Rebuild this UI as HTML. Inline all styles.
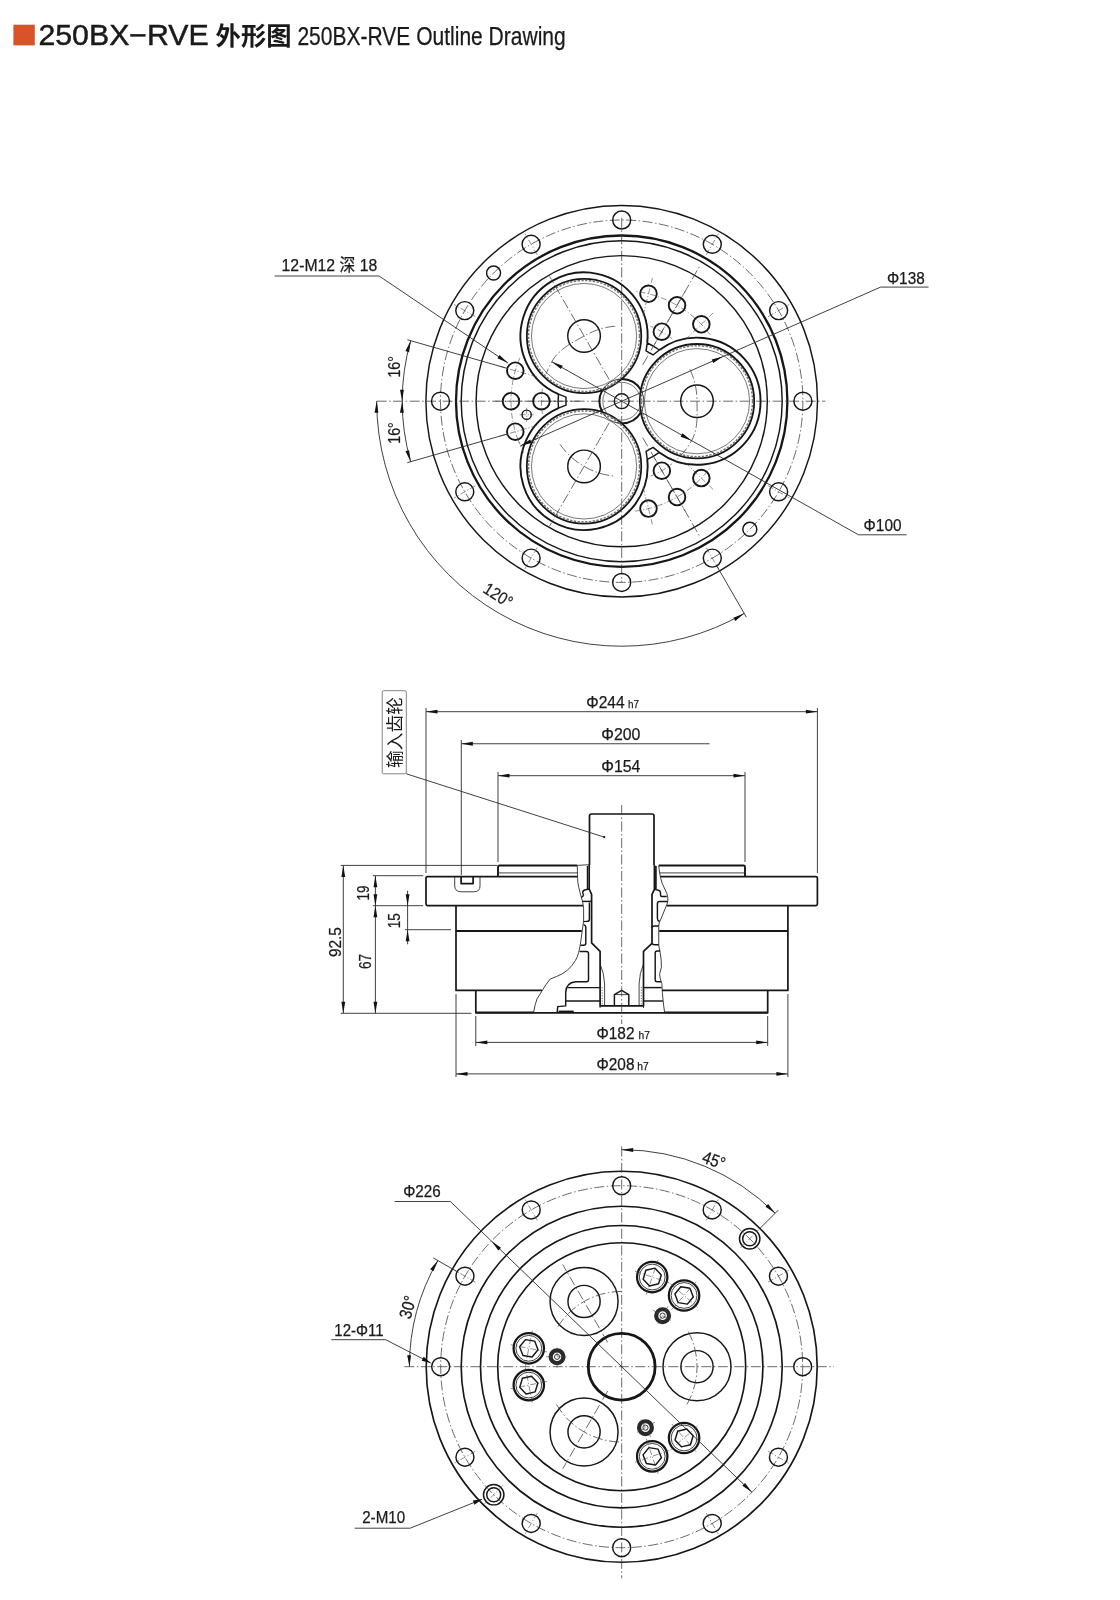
<!DOCTYPE html>
<html lang="zh"><head><meta charset="utf-8"><title>250BX-RVE 外形图 Outline Drawing</title>
<style>
html,body{margin:0;padding:0;background:#fff}
body{width:1120px;height:1600px;overflow:hidden}
svg{display:block;opacity:.999;will-change:transform}
text{font-family:"Liberation Sans","Noto Sans CJK SC",sans-serif;fill:#1a1a1a;stroke:#1a1a1a;stroke-width:.25}
.cj{font-family:"Liberation Sans","Noto Sans CJK SC",sans-serif;stroke:none}
.k,.kb,.kb2,.k8,.k15,.kp,.kp2,.kh,.ks,.t,.c,.c2,.teeth,.dot,.ss{fill:none;stroke:#161616;stroke-linecap:butt;stroke-linejoin:round}
.k{stroke-width:1.45}
.k15{stroke-width:1.65}
.ko{fill:none;stroke:#161616;stroke-width:1.7;stroke-linejoin:round}
.k8{stroke-width:.8}
.kb{stroke-width:2.3}
.kb2{stroke-width:1.9}
.kp{stroke-width:1.9}
.kp2{stroke-width:1.8}
.kh{stroke-width:1.9}
.ks{stroke-width:2.25}
.ss{stroke-width:4.2;stroke:#2a2a2a}
.t{stroke-width:.9;stroke:#2b2b2b}
.tg{fill:none;stroke-width:.9;stroke:#6a6a6a}
.c{stroke-width:.75;stroke:#3a3a3a;stroke-dasharray:10 2.5 1.5 2.5}
.c2{stroke-width:.6;stroke:#444;stroke-dasharray:6 2 1.2 2}
.teeth{stroke-width:1.5;stroke:#777;stroke-dasharray:2.4 1.4}
.dot{stroke-width:.6;stroke-dasharray:1.2 1.5}
.ah{fill:#111;stroke:none}
.bx{fill:none;stroke:#777;stroke-width:.9}
</style></head>
<body>
<svg width="1120" height="1600" viewBox="0 0 1120 1600">
<rect x="0" y="0" width="1120" height="1600" fill="#fff"/>
<g id="header">
<rect x="13.4" y="24.7" width="21.4" height="20.7" fill="#d8532a"/>
<text x="38.4" y="45.4" font-size="28.6" textLength="170.4" lengthAdjust="spacingAndGlyphs" style="stroke:#1a1a1a;stroke-width:.45">250BX−RVE</text>
<text x="215.6" y="45.3" font-size="24.9" font-weight="700" textLength="76" style="stroke:none" lengthAdjust="spacingAndGlyphs" class="cj">外形图</text>
<text x="297.4" y="45" font-size="25.6" textLength="268.3" lengthAdjust="spacingAndGlyphs">250BX-RVE Outline Drawing</text>
</g>
<g id="topview">
<circle class="k" cx="621.7" cy="401.2" r="195.8"/>
<circle class="kb" cx="621.7" cy="401.2" r="165.7"/>
<circle class="k" cx="621.7" cy="401.2" r="160.5"/>
<circle class="k" cx="621.7" cy="401.2" r="145.6"/>
<circle class="c" cx="621.7" cy="401.2" r="181.2"/>
<line class="c" x1="376.6" y1="401.2" x2="825.3" y2="401.2"/>
<line class="c" x1="621.7" y1="217.9" x2="621.7" y2="582.3"/>
<circle class="k" cx="802.9" cy="401.2" r="9"/>
<circle class="k" cx="778.62" cy="310.6" r="9"/>
<line class="c2" x1="768.06" y1="316.7" x2="789.28" y2="304.45"/>
<circle class="k" cx="712.3" cy="244.28" r="9"/>
<line class="c2" x1="706.2" y1="254.84" x2="718.45" y2="233.62"/>
<circle class="k" cx="621.7" cy="220" r="9"/>
<circle class="k" cx="531.1" cy="244.28" r="9"/>
<line class="c2" x1="537.2" y1="254.84" x2="524.95" y2="233.62"/>
<circle class="k" cx="464.78" cy="310.6" r="9"/>
<line class="c2" x1="475.34" y1="316.7" x2="454.12" y2="304.45"/>
<circle class="k" cx="440.5" cy="401.2" r="9"/>
<circle class="k" cx="464.78" cy="491.8" r="9"/>
<line class="c2" x1="475.34" y1="485.7" x2="454.12" y2="497.95"/>
<circle class="k" cx="531.1" cy="558.12" r="9"/>
<line class="c2" x1="537.2" y1="547.56" x2="524.95" y2="568.78"/>
<circle class="k" cx="621.7" cy="582.4" r="9"/>
<circle class="k" cx="712.3" cy="558.12" r="9"/>
<line class="c2" x1="706.2" y1="547.56" x2="718.45" y2="568.78"/>
<circle class="k" cx="778.62" cy="491.8" r="9"/>
<line class="c2" x1="768.06" y1="485.7" x2="789.28" y2="497.95"/>
<circle class="k" cx="493.57" cy="273.07" r="7"/>
<circle class="k" cx="749.83" cy="529.33" r="7"/>
<path class="kp" d="M659.36 349.97A63.57 63.57 0 1 1 659.36 452.43"/>
<circle class="kp2" cx="697" cy="401.2" r="57.2"/>
<circle class="teeth" cx="697" cy="401.2" r="55.5"/>
<circle class="tg" cx="697" cy="401.2" r="52.6"/>
<circle class="k" cx="697" cy="401.2" r="16.3"/>
<path class="kp" d="M558.5 394.2A63.57 63.57 0 1 1 647.24 342.97"/>
<circle class="kp2" cx="584.05" cy="335.99" r="57.2"/>
<circle class="teeth" cx="584.05" cy="335.99" r="55.5"/>
<circle class="tg" cx="584.05" cy="335.99" r="52.6"/>
<circle class="k" cx="584.05" cy="335.99" r="16.3"/>
<line class="c" x1="609.2" y1="379.55" x2="549.7" y2="276.49"/>
<path class="kp" d="M647.24 459.43A63.57 63.57 0 1 1 558.5 408.2"/>
<circle class="kp2" cx="584.05" cy="466.41" r="57.2"/>
<circle class="teeth" cx="584.05" cy="466.41" r="55.5"/>
<circle class="tg" cx="584.05" cy="466.41" r="52.6"/>
<circle class="k" cx="584.05" cy="466.41" r="16.3"/>
<line class="c" x1="609.2" y1="422.85" x2="549.7" y2="525.91"/>
<path class="c" d="M560.02 444.39A75.3 75.3 0 0 0 615.14 476.21"/>
<path class="c" d="M689.94 369.38L690.91 371.54L691.81 373.72L692.64 375.94L693.4 378.18L694.08 380.44L694.7 382.73L695.24 385.03L695.72 387.35L696.11 389.68L696.44 392.02L696.69 394.38L696.87 396.73L696.97 399.1L697 401.46L697.02 403.83L697.05 406.21L697.1 408.59L697.13 411L697.14 413.42L697.11 415.86L697.03 418.32L696.89 420.79L696.67 423.26L696.36 425.75L695.94 428.22L695.41 430.68L694.75 433.11L693.95 435.51L693.01 437.85L691.92 440.12L690.67 442.32L689.35 444.46L687.96 446.57L686.5 448.63L684.98 450.64L683.39 452.6L681.75 454.51L680.04 456.37L678.28 458.18L676.46 459.93"/>
<path class="c" d="M615.14 326.19L613.01 326.4L610.9 326.68L608.79 327.02L606.69 327.41L604.6 327.87L602.53 328.38L600.47 328.95L598.43 329.59L596.41 330.27L594.41 331.02L592.43 331.82L590.47 332.68L588.54 333.59L586.64 334.56L584.76 335.58L582.91 336.64L581.04 337.69L579.17 338.73L577.28 339.78L575.38 340.84L573.49 341.93L571.59 343.04L569.7 344.21L567.83 345.41L565.98 346.68L564.16 348.01L562.38 349.41L560.65 350.88L558.99 352.42L557.39 354.05L555.89 355.76L554.47 357.54L553.17 359.41L551.98 361.35L550.88 363.35L549.84 365.37L548.85 367.42L547.92 369.5L547.05 371.61L546.24 373.74"/>
<circle class="t" cx="621.7" cy="401.2" r="22.2"/>
<path class="kp" d="M640.93 390.1A22.2 22.2 0 0 0 621.7 379"/>
<path class="kp" d="M602.47 390.1A22.2 22.2 0 0 0 602.47 412.3"/>
<path class="kp" d="M621.7 423.4A22.2 22.2 0 0 0 640.93 412.3"/>
<circle class="tg" cx="621.7" cy="401.2" r="18.9"/>
<circle class="k" cx="621.7" cy="401.2" r="7.4"/>
<path class="k" d="M647.24 342.97L646.09 350.96L653.01 354.96L659.36 349.97A64 64 0 0 0 647.24 342.97Z"/>
<line class="c" x1="642.7" y1="364.83" x2="700.2" y2="265.23"/>
<path class="k" d="M558.5 408.2L566 405.2L566 397.2L558.5 394.2A64 64 0 0 0 558.5 408.2Z"/>
<line class="c" x1="579.7" y1="401.2" x2="551.7" y2="401.2"/>
<path class="k" d="M659.36 452.43L653.01 447.44L646.09 451.44L647.24 459.43A64 64 0 0 0 659.36 452.43Z"/>
<line class="c" x1="642.7" y1="437.57" x2="700.2" y2="537.17"/>
<circle class="kh" cx="701.33" cy="324.3" r="8.3"/>
<line class="c2" x1="685" y1="340.07" x2="713.06" y2="312.98"/>
<circle class="kh" cx="677.05" cy="305.33" r="8.3"/>
<line class="c2" x1="654.7" y1="344.04" x2="685.2" y2="291.21"/>
<circle class="kh" cx="648.48" cy="293.79" r="8.3"/>
<line class="c2" x1="642.99" y1="315.81" x2="652.42" y2="277.97"/>
<path class="c2" d="M710.11 334.58A110.7 110.7 0 0 0 635.19 291.33"/>
<circle class="kh" cx="661.83" cy="331.7" r="8.3"/>
<path class="c2" d="M672.2 338.83A80.25 80.25 0 0 0 650.46 326.28"/>
<circle class="kh" cx="515.29" cy="370.69" r="8.3"/>
<line class="c2" x1="537.11" y1="376.94" x2="499.62" y2="366.19"/>
<circle class="kh" cx="511" cy="401.2" r="8.3"/>
<line class="c2" x1="555.7" y1="401.2" x2="494.7" y2="401.2"/>
<circle class="kh" cx="515.29" cy="431.71" r="8.3"/>
<line class="c2" x1="537.11" y1="425.46" x2="499.62" y2="436.21"/>
<path class="c2" d="M519.8 357.95A110.7 110.7 0 0 0 519.8 444.45"/>
<circle class="kh" cx="541.45" cy="401.2" r="8.3"/>
<path class="c2" d="M542.44 388.65A80.25 80.25 0 0 0 542.44 413.75"/>
<circle class="kh" cx="648.48" cy="508.61" r="8.3"/>
<line class="c2" x1="642.99" y1="486.59" x2="652.42" y2="524.43"/>
<circle class="kh" cx="677.05" cy="497.07" r="8.3"/>
<line class="c2" x1="654.7" y1="458.36" x2="685.2" y2="511.19"/>
<circle class="kh" cx="701.33" cy="478.1" r="8.3"/>
<line class="c2" x1="685" y1="462.33" x2="713.06" y2="489.42"/>
<path class="c2" d="M635.19 511.07A110.7 110.7 0 0 0 710.11 467.82"/>
<circle class="kh" cx="661.83" cy="470.7" r="8.3"/>
<path class="c2" d="M650.46 476.12A80.25 80.25 0 0 0 672.2 463.57"/>
<circle class="k" cx="526.66" cy="414.73" r="4.6"/>
<line class="c2" x1="519.66" y1="414.73" x2="533.66" y2="414.73"/>
<line class="c2" x1="526.66" y1="407.73" x2="526.66" y2="421.73"/>
<path class="t" d="M274.6 276H379.1L508 363"/>
<polygon class="ah" points="508,363 497.41,358.14 499.53,354.99"/>
<text class="d" x="281.6" y="271.3" font-size="17" textLength="95.6" lengthAdjust="spacingAndGlyphs">12-M12 深 18</text>
<line class="t" x1="507.31" y1="368.4" x2="407.34" y2="339.73"/>
<path class="t" d="M410.7 340.7A219.5 219.5 0 0 0 402.2 401.2"/>
<polygon class="ah" points="410.7,340.7 409.06,352.24 405.43,351.09"/>
<polygon class="ah" points="402.2,401.2 400,389.75 403.8,389.65"/>
<line class="t" x1="507.31" y1="434" x2="407.34" y2="462.67"/>
<path class="t" d="M402.2 401.2A219.5 219.5 0 0 0 410.7 461.7"/>
<polygon class="ah" points="410.7,461.7 405.43,451.31 409.06,450.16"/>
<polygon class="ah" points="402.2,401.2 403.8,412.75 400,412.65"/>
<text class="d" x="400.2" y="366.8" font-size="17" text-anchor="middle" textLength="21.5" lengthAdjust="spacingAndGlyphs" transform="rotate(-90 400.2 366.8)">16°</text>
<text class="d" x="400.2" y="433" font-size="17" text-anchor="middle" textLength="21.5" lengthAdjust="spacingAndGlyphs" transform="rotate(-90 400.2 433)">16°</text>
<path class="t" d="M376.7 401.2A245 245 0 0 0 744.2 613.38"/>
<line class="t" x1="716.7" y1="565.74" x2="746.45" y2="617.27"/>
<polygon class="ah" points="376.7,401.2 378.34,412.74 374.54,412.65"/>
<polygon class="ah" points="744.2,613.38 735.36,620.97 733.39,617.73"/>
<text class="d" x="498" y="595.5" font-size="17" text-anchor="middle" textLength="31" lengthAdjust="spacingAndGlyphs" transform="rotate(32.5 498 595.5)" dy="5.5">120°</text>
<path class="t" d="M928.6 287.1H880.6L520.4 445.84"/>
<polygon class="ah" points="520.4,445.84 530.16,439.47 531.69,442.94"/>
<polygon class="ah" points="723,356.56 713.24,362.93 711.71,359.46"/>
<line class="c2" x1="517.53" y1="438.67" x2="523.76" y2="452.8"/>
<text class="d" x="886.9" y="284.4" font-size="17" textLength="37.8" lengthAdjust="spacingAndGlyphs">Φ138</text>
<path class="t" d="M906.6 534.8H858.5L551.81 361.77"/>
<polygon class="ah" points="551.81,361.77 562.76,365.76 560.89,369.07"/>
<polygon class="ah" points="691.59,440.63 680.64,436.64 682.51,433.33"/>
<text class="d" x="863.6" y="531.3" font-size="17" textLength="37.9" lengthAdjust="spacingAndGlyphs">Φ100</text>
</g>
<g id="sideview">
<path class="ko" d="M577.6 876.6H427.5Q426 876.6 426 878.1V904.1Q426 905.6 427.5 905.6H583.1"/>
<path class="ko" d="M660.4 876.6H815.9Q817.4 876.6 817.4 878.1V904.1Q817.4 905.6 815.9 905.6H666.8"/>
<path class="kb2" d="M577.3 865.5H499.5Q498 865.5 498 867V876.6"/>
<path class="kb2" d="M658.75 865.5H743.5Q745 865.5 745 867V876.6"/>
<line class="k8" x1="499" y1="872.9" x2="577.5" y2="872.9"/>
<line class="k8" x1="659.6" y1="872.9" x2="744" y2="872.9"/>
<path class="ko" d="M456 905.6V990.4H542"/>
<path class="ko" d="M787.9 905.6V990.4H661.9"/>
<line class="kb2" x1="456" y1="931" x2="581.8" y2="931"/>
<line class="kb2" x1="659.2" y1="931" x2="787.9" y2="931"/>
<path class="ko" d="M475.8 990.4V1012.8H767.7V990.4"/>
<line class="ko" x1="475.8" y1="1012.3" x2="533.6" y2="1012.3"/>
<line class="ko" x1="664.6" y1="1012.3" x2="767.7" y2="1012.3"/>
<path class="ko" d="M461.1 876.6V883.6H473.1V876.6"/>
<path class="t" d="M454.7 876.6V886Q455 891.8 461 891.8H474Q480 891.8 480 886V876.6"/>
<path class="ko" d="M589.5 865V816Q589.5 814 591.5 814H652Q654 814 654 816V865"/>
<path class="ko" d="M589.2 865V889L591.6 894.3V942.9L600.1 951.4V1005.9H643.5V951.4L652 943.4V894.3L654.4 889.4V865"/>
<line class="ko" x1="655.9" y1="866" x2="655.9" y2="889"/>
<line class="k" x1="587.5" y1="866" x2="587.5" y2="889.4"/>
<line class="t" x1="600.1" y1="1005.9" x2="600.1" y2="1008"/>
<line class="t" x1="643.5" y1="1005.9" x2="643.5" y2="1008"/>
<path class="t" d="M577.3 865.7C577.5 872 577.5 878 577.8 881.8S579.2 889 580 892.5S582.2 899.5 582.7 902.3S583.6 906 583.6 908.6V921.1L582.2 930.9L580.4 944.3L578.7 952.3Q577.5 957 575.5 960.4Q572 966 567.5 970.2Q562 974.5 556.8 976.4L550.1 979.1Q546 984 541.6 991.6L537.1 998.75Q535 1004 533.6 1012.3"/>
<path class="t" d="M658.75 865.7L659.6 872.9Q660.6 878.5 662.3 883.6L666.8 893.4Q668.2 897.5 667.9 900.5Q667.4 904 665.9 906.8L662.3 915.7L659.2 922.9L658.75 926V945.2Q659.4 949 660.1 952.3Q661.6 960 661.4 967.5Q660.2 971 659.6 974.6Q660 979 661.9 983.6L662.3 992.5L663.7 1005.9L664.6 1012.3"/>
<path class="k8" d="M577.3 865.4L589.2 864.7"/>
<path class="k" d="M589.2 889L584.5 890Q582.4 891 582.8 893Q584 895.3 582.8 896.4L581.2 897.3"/>
<path class="k" d="M582.2 901.4H591.6"/>
<path class="k" d="M589.4 902.5V919.2Q589.4 921.3 587 921.4L583.6 921.6"/>
<path class="k" d="M583.6 924.6Q585.8 925 585.8 927.4V943.2Q585.8 945.2 583.8 945.2H580.4"/>
<path class="k" d="M579.6 951.4H586.5Q588.5 951.4 588.5 953.4V979.8Q588.5 981.8 586.5 981.8H575.6Q566 982.6 565.7 992.6V1005.9L557.7 1006.6L557.2 1012.3"/>
<line class="k" x1="567.6" y1="987.6" x2="600.1" y2="987.6"/>
<line class="k" x1="565.7" y1="1001" x2="600.1" y2="1001"/>
<line class="k" x1="558.6" y1="1011.3" x2="573.7" y2="1011.3"/>
<path class="k" d="M654.4 889.4L658.6 890.2Q660.5 890.8 660.5 892.8V895Q660.5 896.5 662 896.5H666.8"/>
<path class="k" d="M667.7 901.4H659.6Q657.4 901.4 657.4 903.6V918.4Q657.4 920.6 659.6 921.5"/>
<path class="k" d="M652 927.5Q652.4 926 654.4 926H658.75"/>
<path class="k" d="M652 943.4Q652.6 944.7 654.6 944.7H658.75"/>
<path class="k" d="M660.1 951H657.2Q655.2 951 655.2 953V979.8Q655.2 981.8 657.2 981.8H661"/>
<line class="k" x1="643.5" y1="987.6" x2="661.6" y2="987.6"/>
<line class="k" x1="643.5" y1="1001" x2="662.9" y2="1001"/>
<path class="k8" d="M600.1 964Q604.2 973 604.6 984V1005.9"/>
<path class="k8" d="M643.5 964Q639.5 973 639.1 984V1005.9"/>
<line class="dot" x1="602.2" y1="987" x2="602.2" y2="1005.9"/>
<line class="dot" x1="641.3" y1="987" x2="641.3" y2="1005.9"/>
<path class="k" d="M614.4 1005.9V994.6L621.6 990.4L628.8 994.6V1005.9"/>
<line class="k8" x1="614.4" y1="994.6" x2="628.8" y2="994.6"/>
<line class="c" x1="621.7" y1="805" x2="621.7" y2="1024"/>
<line class="t" x1="426" y1="711.7" x2="817.4" y2="711.7"/>
<polygon class="ah" points="426,711.7 437.5,709.8 437.5,713.6"/>
<polygon class="ah" points="817.4,711.7 805.9,713.6 805.9,709.8"/>
<line class="t" x1="426" y1="708" x2="426" y2="873"/>
<line class="t" x1="817.4" y1="708" x2="817.4" y2="873"/>
<line class="t" x1="461.3" y1="743.75" x2="709.5" y2="743.75"/>
<polygon class="ah" points="461.3,743.75 472.8,741.85 472.8,745.65"/>
<line class="t" x1="461.3" y1="740" x2="461.3" y2="875"/>
<line class="t" x1="498" y1="775.7" x2="745" y2="775.7"/>
<polygon class="ah" points="498,775.7 509.5,773.8 509.5,777.6"/>
<polygon class="ah" points="745,775.7 733.5,777.6 733.5,773.8"/>
<line class="t" x1="498" y1="772" x2="498" y2="862"/>
<line class="t" x1="745" y1="772" x2="745" y2="862"/>
<line class="t" x1="475.8" y1="1042.4" x2="767.7" y2="1042.4"/>
<polygon class="ah" points="475.8,1042.4 487.3,1040.5 487.3,1044.3"/>
<polygon class="ah" points="767.7,1042.4 756.2,1044.3 756.2,1040.5"/>
<line class="t" x1="475.8" y1="1016" x2="475.8" y2="1046"/>
<line class="t" x1="767.7" y1="1016" x2="767.7" y2="1046"/>
<line class="t" x1="456" y1="1073.9" x2="787.9" y2="1073.9"/>
<polygon class="ah" points="456,1073.9 467.5,1072 467.5,1075.8"/>
<polygon class="ah" points="787.9,1073.9 776.4,1075.8 776.4,1072"/>
<line class="t" x1="456" y1="994" x2="456" y2="1077"/>
<line class="t" x1="787.9" y1="994" x2="787.9" y2="1077"/>
<line class="t" x1="343.3" y1="865.4" x2="343.3" y2="1013.3"/>
<polygon class="ah" points="343.3,865.4 345.2,876.9 341.4,876.9"/>
<polygon class="ah" points="343.3,1013.3 341.4,1001.8 345.2,1001.8"/>
<line class="t" x1="340.7" y1="865.4" x2="497" y2="865.4"/>
<line class="t" x1="340.7" y1="1013.3" x2="471.4" y2="1013.3"/>
<line class="t" x1="375.4" y1="875.7" x2="375.4" y2="905.7"/>
<polygon class="ah" points="375.4,875.7 377.3,887.2 373.5,887.2"/>
<polygon class="ah" points="375.4,905.7 373.5,894.2 377.3,894.2"/>
<line class="t" x1="372.9" y1="875.7" x2="423.2" y2="875.7"/>
<line class="t" x1="372.9" y1="905.7" x2="423.2" y2="905.7"/>
<line class="t" x1="375.4" y1="905.7" x2="375.4" y2="1013.3"/>
<polygon class="ah" points="375.4,905.7 377.3,917.2 373.5,917.2"/>
<polygon class="ah" points="375.4,1013.3 373.5,1001.8 377.3,1001.8"/>
<line class="t" x1="407.6" y1="890.7" x2="407.6" y2="944.3"/>
<polygon class="ah" points="407.6,905.7 405.7,894.2 409.5,894.2"/>
<polygon class="ah" points="407.6,929.7 409.5,941.2 405.7,941.2"/>
<line class="t" x1="405" y1="929.7" x2="451" y2="929.7"/>
<text class="d" x="586.25" y="707.5" font-size="17" textLength="38.3" lengthAdjust="spacingAndGlyphs">Φ244</text>
<text class="d" x="628" y="707.5" font-size="11.5" textLength="11" lengthAdjust="spacingAndGlyphs">h7</text>
<text class="d" x="601.25" y="739.5" font-size="17" textLength="39.2" lengthAdjust="spacingAndGlyphs">Φ200</text>
<text class="d" x="601.25" y="771.75" font-size="17" textLength="39.2" lengthAdjust="spacingAndGlyphs">Φ154</text>
<text class="d" x="596.5" y="1038.6" font-size="17" textLength="38" lengthAdjust="spacingAndGlyphs">Φ182</text>
<text class="d" x="638.6" y="1038.6" font-size="11.5" textLength="11.4" lengthAdjust="spacingAndGlyphs">h7</text>
<text class="d" x="596.5" y="1070" font-size="17" textLength="38" lengthAdjust="spacingAndGlyphs">Φ208</text>
<text class="d" x="637.2" y="1070" font-size="11.5" textLength="11.4" lengthAdjust="spacingAndGlyphs">h7</text>
<text class="d" x="369.1" y="892.9" font-size="17" text-anchor="middle" textLength="15" lengthAdjust="spacingAndGlyphs" transform="rotate(-90 369.1 892.9)">19</text>
<text class="d" x="400.2" y="920.7" font-size="17" text-anchor="middle" textLength="15" lengthAdjust="spacingAndGlyphs" transform="rotate(-90 400.2 920.7)">15</text>
<text class="d" x="371.3" y="961.4" font-size="17" text-anchor="middle" textLength="15" lengthAdjust="spacingAndGlyphs" transform="rotate(-90 371.3 961.4)">67</text>
<text class="d" x="340.6" y="942.1" font-size="17" text-anchor="middle" textLength="30" lengthAdjust="spacingAndGlyphs" transform="rotate(-90 340.6 942.1)">92.5</text>
<rect class="bx" x="382.2" y="690.7" width="24.1" height="83.1" rx="1.5"/>
<text class="cj" x="401" y="732.5" font-size="17.6" text-anchor="middle" textLength="71" lengthAdjust="spacingAndGlyphs" transform="rotate(-90 401 732.5)">输入齿轮</text>
<line class="t" x1="406.3" y1="773.8" x2="604.2" y2="837.1"/>
<circle class="ah" cx="604.2" cy="837.1" r="1.1"/>
</g>
<g id="bottomview">
<circle class="k15" cx="621.7" cy="1366.7" r="195.5"/>
<circle class="k15" cx="621.7" cy="1366.7" r="160.5"/>
<circle class="k15" cx="621.7" cy="1366.7" r="141.2"/>
<circle class="k15" cx="621.7" cy="1366.7" r="124"/>
<circle class="c" cx="621.7" cy="1366.7" r="181"/>
<line class="c" x1="404.3" y1="1366.7" x2="834" y2="1366.7"/>
<line class="c" x1="621.7" y1="1146.4" x2="621.7" y2="1578.3"/>
<circle class="k" cx="802.7" cy="1366.7" r="9"/>
<circle class="k" cx="778.45" cy="1276.2" r="9"/>
<line class="c2" x1="768.06" y1="1282.2" x2="788.84" y2="1270.2"/>
<circle class="k" cx="712.2" cy="1209.95" r="9"/>
<line class="c2" x1="706.2" y1="1220.34" x2="718.2" y2="1199.56"/>
<circle class="k" cx="621.7" cy="1185.7" r="9"/>
<circle class="k" cx="531.2" cy="1209.95" r="9"/>
<line class="c2" x1="537.2" y1="1220.34" x2="525.2" y2="1199.56"/>
<circle class="k" cx="464.95" cy="1276.2" r="9"/>
<line class="c2" x1="475.34" y1="1282.2" x2="454.56" y2="1270.2"/>
<circle class="k" cx="440.7" cy="1366.7" r="9"/>
<circle class="k" cx="464.95" cy="1457.2" r="9"/>
<line class="c2" x1="475.34" y1="1451.2" x2="454.56" y2="1463.2"/>
<circle class="k" cx="531.2" cy="1523.45" r="9"/>
<line class="c2" x1="537.2" y1="1513.06" x2="525.2" y2="1533.84"/>
<circle class="k" cx="621.7" cy="1547.7" r="9"/>
<circle class="k" cx="712.2" cy="1523.45" r="9"/>
<line class="c2" x1="706.2" y1="1513.06" x2="718.2" y2="1533.84"/>
<circle class="k" cx="778.45" cy="1457.2" r="9"/>
<line class="c2" x1="768.06" y1="1451.2" x2="788.84" y2="1463.2"/>
<circle class="k" cx="749.69" cy="1238.71" r="10.2"/>
<circle class="k" cx="749.69" cy="1238.71" r="7"/>
<line class="c2" x1="740.49" y1="1247.91" x2="758.88" y2="1229.52"/>
<circle class="k" cx="493.71" cy="1494.69" r="10.2"/>
<circle class="k" cx="493.71" cy="1494.69" r="7"/>
<line class="c2" x1="502.91" y1="1485.49" x2="484.52" y2="1503.88"/>
<circle class="kb" cx="621.7" cy="1366.7" r="33.4" style="stroke-width:2.8"/>
<circle class="k" cx="697" cy="1366.7" r="34"/>
<circle class="k" cx="697" cy="1366.7" r="16.1"/>
<path class="c" d="M686.91 1404.35A75.3 75.3 0 0 0 686.91 1329.05"/>
<circle class="k" cx="584.05" cy="1301.49" r="34"/>
<circle class="k" cx="584.05" cy="1301.49" r="16.1"/>
<line class="c" x1="607.7" y1="1342.45" x2="562.7" y2="1264.51"/>
<path class="c" d="M621.7 1291.4A75.3 75.3 0 0 0 556.49 1329.05"/>
<circle class="k" cx="584.05" cy="1431.91" r="34"/>
<circle class="k" cx="584.05" cy="1431.91" r="16.1"/>
<line class="c" x1="607.7" y1="1390.95" x2="562.7" y2="1468.89"/>
<path class="c" d="M556.49 1404.35A75.3 75.3 0 0 0 621.7 1442"/>
<circle class="ks" cx="684.08" cy="1295.45" r="15.2"/>
<circle class="t" cx="684.08" cy="1295.45" r="12.9"/>
<polygon class="k" points="689.96,1288.24 680.78,1286.75 674.9,1293.96 678.2,1302.65 687.38,1304.14 693.26,1296.93"/>
<line class="c2" x1="671.76" y1="1309.52" x2="696.13" y2="1281.68"/>
<line class="c2" x1="670.53" y1="1283.59" x2="697.62" y2="1307.3"/>
<circle class="ks" cx="652.22" cy="1277.05" r="15.2"/>
<circle class="t" cx="652.22" cy="1277.05" r="12.9"/>
<polygon class="k" points="654.91,1268.15 645.85,1270.27 643.16,1279.18 649.53,1285.96 658.58,1283.83 661.27,1274.93"/>
<line class="c2" x1="646.19" y1="1294.75" x2="658.12" y2="1259.73"/>
<line class="c2" x1="635.18" y1="1271.25" x2="669.26" y2="1282.85"/>
<circle class="ss" cx="662.59" cy="1315.66" r="6.4"/>
<circle class="t" cx="662.59" cy="1315.66" r="2.6"/>
<line class="c2" x1="668.09" y1="1306.13" x2="657.09" y2="1325.19"/>
<line class="c2" x1="653.06" y1="1310.16" x2="672.12" y2="1321.16"/>
<circle class="ks" cx="528.8" cy="1348.31" r="15.2"/>
<circle class="t" cx="528.8" cy="1348.31" r="12.9"/>
<polygon class="k" points="519.62,1346.82 522.93,1355.51 532.11,1357 537.98,1349.79 534.68,1341.1 525.5,1339.61"/>
<line class="c2" x1="547.15" y1="1351.94" x2="510.85" y2="1344.75"/>
<line class="c2" x1="525.31" y1="1365.96" x2="532.3" y2="1330.65"/>
<circle class="ks" cx="528.8" cy="1385.09" r="15.2"/>
<circle class="t" cx="528.8" cy="1385.09" r="12.9"/>
<polygon class="k" points="519.75,1387.22 526.12,1394 535.17,1391.87 537.86,1382.97 531.49,1376.19 522.44,1378.31"/>
<line class="c2" x1="547.15" y1="1381.46" x2="510.85" y2="1388.65"/>
<line class="c2" x1="532.3" y1="1402.75" x2="525.31" y2="1367.44"/>
<circle class="ss" cx="557.05" cy="1356.81" r="6.4"/>
<circle class="t" cx="557.05" cy="1356.81" r="2.6"/>
<line class="c2" x1="546.05" y1="1356.81" x2="568.05" y2="1356.81"/>
<line class="c2" x1="557.05" y1="1367.81" x2="557.05" y2="1345.81"/>
<circle class="ks" cx="652.22" cy="1456.35" r="15.2"/>
<circle class="t" cx="652.22" cy="1456.35" r="12.9"/>
<polygon class="k" points="655.52,1465.04 661.4,1457.83 658.1,1449.14 648.92,1447.65 643.04,1454.86 646.34,1463.55"/>
<line class="c2" x1="646.19" y1="1438.65" x2="658.12" y2="1473.67"/>
<line class="c2" x1="669.26" y1="1450.55" x2="635.18" y2="1462.15"/>
<circle class="ks" cx="684.08" cy="1437.95" r="15.2"/>
<circle class="t" cx="684.08" cy="1437.95" r="12.9"/>
<polygon class="k" points="690.44,1444.73 693.13,1435.83 686.77,1429.05 677.71,1431.17 675.02,1440.08 681.39,1446.86"/>
<line class="c2" x1="671.76" y1="1423.88" x2="696.13" y2="1451.72"/>
<line class="c2" x1="697.62" y1="1426.1" x2="670.53" y2="1449.81"/>
<circle class="ss" cx="645.46" cy="1427.63" r="6.4"/>
<circle class="t" cx="645.46" cy="1427.63" r="2.6"/>
<line class="c2" x1="650.96" y1="1437.16" x2="639.96" y2="1418.11"/>
<line class="c2" x1="654.98" y1="1422.13" x2="635.93" y2="1433.13"/>
<path class="t" d="M775.14 1213.26A217 217 0 0 0 621.7 1149.7"/>
<line class="t" x1="760.29" y1="1228.11" x2="778.32" y2="1210.08"/>
<polygon class="ah" points="621.7,1149.7 633.25,1148.1 633.15,1151.9"/>
<polygon class="ah" points="775.14,1213.26 765.49,1206.72 768.11,1203.96"/>
<text class="d" x="713.9" y="1160.4" font-size="17.5" text-anchor="middle" textLength="23" lengthAdjust="spacingAndGlyphs" transform="rotate(20 713.9 1160.4)" dy="5.8">45°</text>
<path class="t" d="M437.84 1260.55A212.3 212.3 0 0 0 409.4 1366.7"/>
<line class="t" x1="457.16" y1="1271.7" x2="433.34" y2="1257.95"/>
<polygon class="ah" points="437.84,1260.55 433.45,1271.35 430.21,1269.36"/>
<polygon class="ah" points="409.4,1366.7 407.2,1355.25 411,1355.15"/>
<text class="d" x="407.9" y="1307.1" font-size="17.5" text-anchor="middle" textLength="23" lengthAdjust="spacingAndGlyphs" transform="rotate(-75 407.9 1307.1)" dy="5.8">30°</text>
<path class="t" d="M394.7 1201.5H450.4L751.99 1492.35"/>
<polygon class="ah" points="751.99,1492.35 742.39,1485.73 745.03,1482.99"/>
<polygon class="ah" points="491.41,1241.05 501.01,1247.67 498.37,1250.41"/>
<text class="d" x="403.2" y="1197.4" font-size="17" textLength="37.5" lengthAdjust="spacingAndGlyphs">Φ226</text>
<path class="t" d="M331.4 1339.7H385.7L430.7 1362.9"/>
<polygon class="ah" points="430.7,1362.9 421.69,1360.73 423.71,1356.82"/>
<text class="d" x="334.3" y="1336.4" font-size="17" textLength="49.3" lengthAdjust="spacingAndGlyphs">12-Φ11</text>
<path class="t" d="M354.7 1528.2H410.2L482 1499.3"/>
<polygon class="ah" points="482,1499.3 474.47,1504.7 472.83,1500.62"/>
<text class="d" x="362.2" y="1523.4" font-size="17" textLength="42.9" lengthAdjust="spacingAndGlyphs">2-M10</text>
</g>
</svg>
</body></html>
